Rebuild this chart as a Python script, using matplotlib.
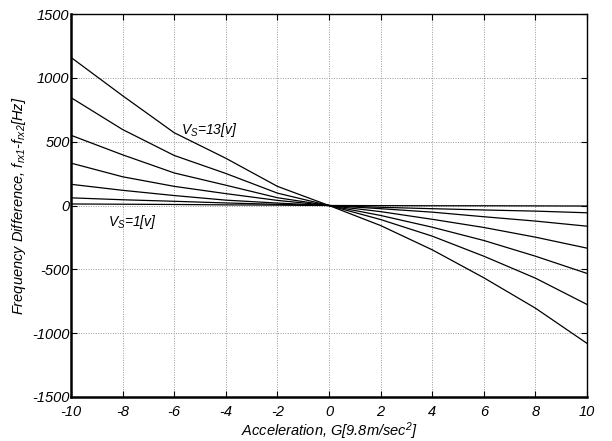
import matplotlib
matplotlib.use("Agg")
import matplotlib.pyplot as plt

plt.rcParams['font.family'] = ['Liberation Sans', 'DejaVu Sans']
plt.rcParams['mathtext.fontset'] = 'custom'
plt.rcParams['mathtext.it'] = 'Liberation Sans:italic'
plt.rcParams['mathtext.rm'] = 'Liberation Sans:italic'
plt.rcParams['mathtext.sf'] = 'Liberation Sans:italic'

# Acceleration (G) sample points
accel = [-10, -8, -6, -4, -2, 0, 2, 4, 6, 8, 10]

# Frequency difference [Hz] for each supply voltage curve
vs13 = [1160, 860, 570, 370, 150, 0, -157, -347, -566, -804, -1080]
vs11 = [845, 595, 392, 251, 97, 0, -110, -240, -397, -569, -775]
vs9 = [550, 397, 255, 159, 61, 0, -78, -170, -274, -397, -532]
vs7 = [332, 225, 150, 93, 40, 0, -48, -108, -172, -248, -334]
vs5 = [166, 119, 78, 42, 19, 0, -25, -52, -88, -122, -162]
vs3 = [60, 45, 33, 20, 9, 0, -14, -25, -35, -44, -57]
vs1 = [12, 10, 8, 5, 3, 0, -1, -2, -2, -3, -4]
series = [vs13, vs11, vs9, vs7, vs5, vs3, vs1]

x_ticks = [-10, -8, -6, -4, -2, 0, 2, 4, 6, 8, 10]
y_ticks = [-1500, -1000, -500, 0, 500, 1000, 1500]

fig = plt.figure(figsize=(6.12, 4.41), dpi=100)
ax = fig.add_axes([71/612, 44/441, 516/612, 383/441])

for s in series:
    ax.plot(accel, s, color='black', lw=0.9)

ax.set_xlim(-10, 10)
ax.set_ylim(-1500, 1500)
ax.set_xticks(x_ticks)
ax.set_yticks(y_ticks)
ax.set_xticklabels([str(t) for t in x_ticks], fontstyle='italic', fontsize=10.5)
ax.set_yticklabels([str(t) for t in y_ticks], fontstyle='italic', fontsize=10.5)
ax.tick_params(direction='in', length=4, width=0.8, top=True, right=True)
ax.tick_params(axis='x', pad=6)
ax.tick_params(axis='y', pad=1)

ax.grid(True, color='#999999', linestyle=(0, (1, 1.5)), lw=0.7)
ax.set_axisbelow(True)

for side in ['left', 'bottom']:
    ax.spines[side].set_linewidth(1.8)
for side in ['top', 'right']:
    ax.spines[side].set_linewidth(1.0)

ax.set_xlabel(r'Acceleration, G[9.8m/sec$^2$]', fontstyle='italic', fontsize=10.5, labelpad=1)
ax.set_ylabel(r'Frequency Difference, $f_{rx1}$-$f_{rx2}$[Hz]', fontstyle='italic', fontsize=10.5, labelpad=3)

ax.text(-5.75, 590, r'$V_S$=13[v]', fontstyle='italic', fontsize=10, va='center', ha='left')
ax.text(-8.55, -131, r'$V_S$=1[v]', fontstyle='italic', fontsize=10, va='center', ha='left')

fig.savefig('out.png', dpi=100)
